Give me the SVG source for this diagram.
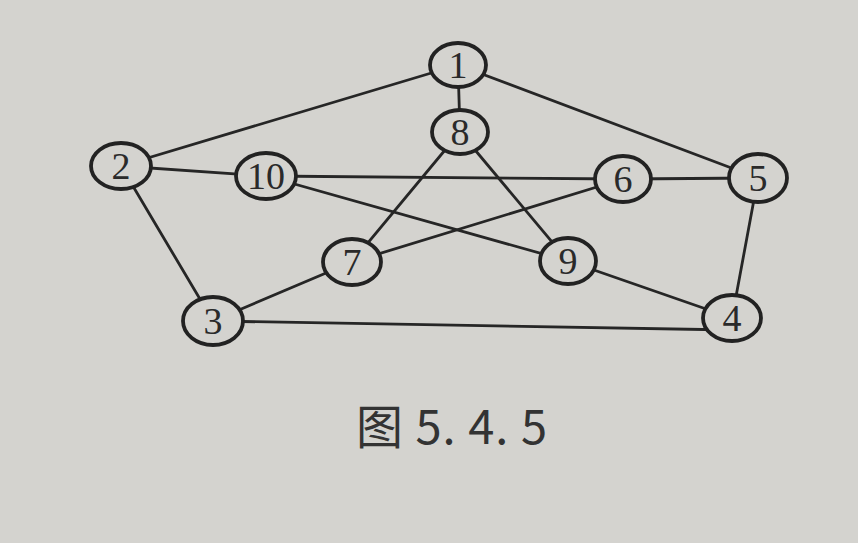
<svg xmlns="http://www.w3.org/2000/svg" width="858" height="543" viewBox="0 0 858 543">
<style>
.e{stroke:#262626;stroke-width:2.8;fill:none;stroke-linecap:round}
.n ellipse{fill:#d4d3cf;stroke:#222;stroke-width:3.8}
.n text{font-family:"Liberation Serif",serif;font-size:38px;fill:#2a2a2a;text-anchor:middle}
.cap{font-family:"Noto Sans CJK SC","Liberation Sans",sans-serif;font-size:47px;fill:#333;letter-spacing:1px}
</style>
<rect width="858" height="543" fill="#d4d3cf"/>
<g id="edges">
<line class="e" x1="458" y1="65" x2="460" y2="132"/>
<line class="e" x1="458" y1="65" x2="121" y2="166"/>
<line class="e" x1="458" y1="65" x2="758" y2="178"/>
<line class="e" x1="121" y1="166" x2="266" y2="176"/>
<line class="e" x1="121" y1="166" x2="213" y2="321"/>
<line class="e" x1="266" y1="176" x2="623" y2="179"/>
<line class="e" x1="266" y1="176" x2="568" y2="261"/>
<line class="e" x1="460" y1="132" x2="352" y2="262"/>
<line class="e" x1="460" y1="132" x2="568" y2="261"/>
<line class="e" x1="623" y1="179" x2="352" y2="262"/>
<line class="e" x1="623" y1="179" x2="758" y2="178"/>
<line class="e" x1="758" y1="178" x2="732" y2="318"/>
<line class="e" x1="568" y1="261" x2="732" y2="318"/>
<line class="e" x1="352" y1="262" x2="213" y2="321"/>
<line class="e" x1="213" y1="321" x2="732" y2="330"/>
</g>
<g id="n1" class="n"><ellipse cx="458" cy="65" rx="28" ry="22"/><text x="458" y="78">1</text></g>
<g id="n8" class="n"><ellipse cx="460" cy="132" rx="28" ry="22"/><text x="460" y="145">8</text></g>
<g id="n2" class="n"><ellipse cx="121" cy="166" rx="30" ry="23"/><text x="121" y="179">2</text></g>
<g id="n10" class="n"><ellipse cx="266" cy="176" rx="30" ry="23"/><text x="266" y="189">10</text></g>
<g id="n6" class="n"><ellipse cx="623" cy="179" rx="28" ry="23"/><text x="623" y="192">6</text></g>
<g id="n5" class="n"><ellipse cx="758" cy="178" rx="29" ry="24"/><text x="758" y="191">5</text></g>
<g id="n9" class="n"><ellipse cx="568" cy="261" rx="28" ry="23"/><text x="568" y="274">9</text></g>
<g id="n4" class="n"><ellipse cx="732" cy="318" rx="29" ry="23"/><text x="732" y="331">4</text></g>
<g id="n7" class="n"><ellipse cx="352" cy="262" rx="29" ry="23"/><text x="352" y="275">7</text></g>
<g id="n3" class="n"><ellipse cx="213" cy="321" rx="30" ry="24"/><text x="213" y="334">3</text></g>
<text class="cap" x="356" y="444">图 5. 4. 5</text>
</svg>
